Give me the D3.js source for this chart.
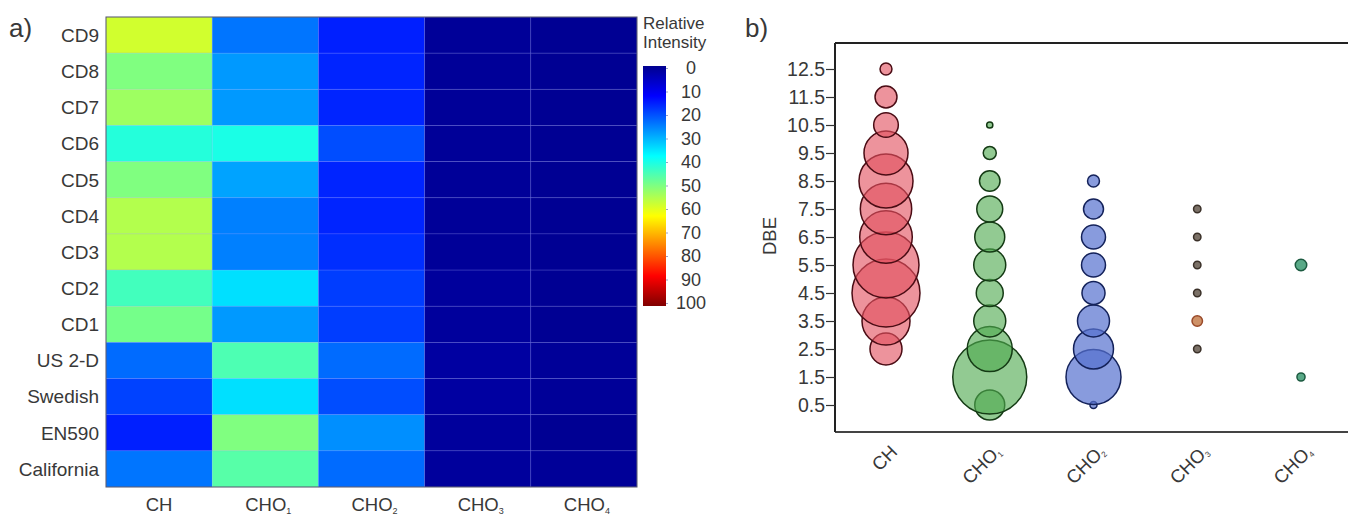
<!DOCTYPE html>
<html>
<head>
<meta charset="utf-8">
<script src="https://cdn.jsdelivr.net/npm/d3@7/dist/d3.min.js"></script>
<style>
  html, body { margin: 0; padding: 0; background: #fff; }
  svg { display: block; font-family: "Liberation Sans", Arial, sans-serif; }
</style>
</head>
<body>
<svg id="fig" width="1348" height="516"></svg>
<script>
// ---- panel a) heatmap data: relative intensity (%) per fuel and class ----
const fuels = ["CD9", "CD8", "CD7", "CD6", "CD5", "CD4", "CD3", "CD2", "CD1", "US 2-D", "Swedish", "EN590", "California"];
const classes = [
  { base: "CH", sub: "" },
  { base: "CHO", sub: "1" },
  { base: "CHO", sub: "2" },
  { base: "CHO", sub: "3" },
  { base: "CHO", sub: "4" }
];
const classKeys = ["CH", "CHO1", "CHO2", "CHO3", "CHO4"];
const intensityCH   = [58, 50, 53, 41, 50, 55, 55, 44, 49, 23, 19, 15.5, 24];
const intensityCHO1 = [24, 27.5, 27.5, 40, 28.5, 25, 25, 34.5, 27.5, 45, 34.5, 50, 46];
const intensityCHO2 = [15.5, 16, 16, 20, 16, 16, 17, 18.5, 18.5, 23, 20, 26.5, 23];
const intensityCHO3 = [1, 1, 1, 1, 1, 1, 1, 1.5, 1.5, 2, 2, 1.5, 1.5];
const intensityCHO4 = [0.5, 0.5, 0.5, 0.5, 0.5, 0.5, 0.5, 0.5, 0.5, 1, 1, 0.5, 1];
const colorbarTicks = [0, 10, 20, 30, 40, 50, 60, 70, 80, 90, 100];

// ---- panel b) bubble data: DBE levels and relative abundance per class ----
const dbeCH   = [2.5, 3.5, 4.5, 5.5, 6.5, 7.5, 8.5, 9.5, 10.5, 11.5, 12.5];
const sizeCH  = [18.7, 42.1, 84.4, 79.5, 50.5, 48.2, 53.3, 35.4, 11.1, 8.8, 2.6];
const dbeCHO1  = [0.5, 1.5, 2.5, 3.5, 4.5, 5.5, 6.5, 7.5, 8.5, 9.5, 10.5];
const sizeCHO1 = [16.4, 100, 37.0, 18.7, 13.3, 18.7, 16.4, 12.3, 7.7, 3.1, 0.7];
const dbeCHO2  = [0.5, 1.5, 2.5, 3.5, 4.5, 5.5, 6.5, 7.5, 8.5];
const sizeCHO2 = [0.9, 55.2, 29.2, 18.7, 9.7, 10.5, 10.5, 7.3, 2.6];
const dbeCHO3  = [2.5, 3.5, 4.5, 5.5, 6.5, 7.5];
const sizeCHO3 = [1.0, 2.0, 1.0, 1.0, 1.0, 1.0];
const dbeCHO4  = [1.5, 5.5];
const sizeCHO4 = [1.2, 2.4];
const dbeTicks = [0.5, 1.5, 2.5, 3.5, 4.5, 5.5, 6.5, 7.5, 8.5, 9.5, 10.5, 11.5, 12.5];

const svg = d3.select("#fig");
const textColor = "#383838";
const fontFamily = "'Liberation Sans', Arial, sans-serif";
const labelSize = 19;

// Jet colour map (0 = dark blue, 100 = dark red)
const jet = d3.scaleLinear()
  .domain([0, 12.5, 37.5, 62.5, 87.5, 100])
  .range(["#00008f", "#0000ff", "#00ffff", "#ffff00", "#ff0000", "#800000"])
  .clamp(true);

// helper: write a chemical class name with an optional subscript
function writeClass(sel, c, subSize) {
  sel.text(null);
  sel.append("tspan").text(c.base);
  if (c.sub) {
    sel.append("tspan").attr("font-size", subSize).attr("dy", "0.3em").text(c.sub);
  }
}

// ================= panel a) =================
const hx = d3.scaleBand().domain(classKeys).range([106, 637]);
const hy = d3.scaleBand().domain(fuels).range([17, 487]);
const columns = [intensityCH, intensityCHO1, intensityCHO2, intensityCHO3, intensityCHO4];

const cells = [];
fuels.forEach((f, i) => classKeys.forEach((k, j) => cells.push({ fuel: f, cls: k, v: columns[j][i] })));

const gA = svg.append("g");
gA.selectAll("rect.cell").data(cells).join("rect")
  .attr("class", "cell")
  .attr("x", d => hx(d.cls))
  .attr("y", d => hy(d.fuel))
  .attr("width", hx.bandwidth())
  .attr("height", hy.bandwidth())
  .attr("fill", d => jet(d.v))
  .attr("stroke", "rgba(140,150,255,0.22)")
  .attr("stroke-width", 0.8);

gA.append("rect")
  .attr("x", 106).attr("y", 17)
  .attr("width", 531).attr("height", 470)
  .attr("fill", "none").attr("stroke", "#5a5a6a").attr("stroke-width", 1);

// row labels
gA.selectAll("text.row").data(fuels).join("text")
  .attr("class", "row")
  .attr("x", 99)
  .attr("y", d => hy(d) + hy.bandwidth() / 2)
  .attr("dy", "0.36em")
  .attr("text-anchor", "end")
  .attr("font-size", labelSize)
  .attr("fill", textColor)
  .text(d => d);

// column labels
gA.selectAll("text.col").data(classes).join("text")
  .attr("class", "col")
  .attr("x", (d, i) => hx(classKeys[i]) + hx.bandwidth() / 2 + (d.sub ? 3 : 0))
  .attr("y", 511)
  .attr("text-anchor", "middle")
  .attr("font-size", 18.5)
  .attr("fill", textColor)
  .each(function (d) { writeClass(d3.select(this), d, 9); });

svg.append("text").attr("x", 9).attr("y", 37)
  .attr("font-size", 26).attr("fill", textColor).text("a)");

// colour bar
const cbY = d3.scaleLinear().domain([0, 100]).range([68, 303]);
const defs = svg.append("defs");
const grad = defs.append("linearGradient").attr("id", "jetGrad")
  .attr("x1", 0).attr("y1", 0).attr("x2", 0).attr("y2", 1);
d3.range(0, 101, 2.5).forEach(v => {
  grad.append("stop").attr("offset", (v / 100)).attr("stop-color", jet(v));
});
svg.append("rect")
  .attr("x", 643).attr("y", cbY(0) - 2)
  .attr("width", 23).attr("height", cbY(100) - cbY(0) + 5)
  .attr("fill", "url(#jetGrad)");

const cbAxis = svg.append("g").attr("transform", "translate(666,0)")
  .call(d3.axisRight(cbY).tickValues(colorbarTicks).tickSize(2).tickPadding(23));
cbAxis.select(".domain").remove();
cbAxis.selectAll(".tick line").attr("stroke", "#9aa0c8");
cbAxis.selectAll(".tick text")
  .attr("font-size", 18).attr("fill", textColor)
  .attr("text-anchor", "middle")
  .attr("font-family", fontFamily);

// colour bar title, two lines
svg.append("text").attr("x", 643).attr("y", 29)
  .attr("font-size", 17).attr("fill", textColor).text("Relative");
svg.append("text").attr("x", 643).attr("y", 48)
  .attr("font-size", 17).attr("fill", textColor).text("Intensity");

// ================= panel b) =================
const bx = d3.scalePoint().domain(classKeys).range([886, 1301]);
const by = d3.scaleLinear().domain([0.5, 12.5]).range([405, 69]);
const rScale = d3.scaleSqrt().domain([0, 100]).range([0, 37]);

const seriesB = [
  { key: "CH",   dbe: dbeCH,   size: sizeCH,   fill: "#e2505f", stroke: "#4a0c14", op: 0.62 },
  { key: "CHO1", dbe: dbeCHO1, size: sizeCHO1, fill: "#4faa4f", stroke: "#143a14", op: 0.62 },
  { key: "CHO2", dbe: dbeCHO2, size: sizeCHO2, fill: "#5570cf", stroke: "#14225a", op: 0.7 },
  { key: "CHO3", dbe: dbeCHO3, size: sizeCHO3, fill: "#6d6256", stroke: "#3a3028", op: 0.9 },
  { key: "CHO4", dbe: dbeCHO4, size: sizeCHO4, fill: "#3c9a72", stroke: "#1c5a40", op: 0.85 }
];

const gB = svg.append("g");
seriesB.forEach(s => {
  const pts = s.dbe.map((d, i) => ({ dbe: d, size: s.size[i] }));
  gB.append("g").selectAll("circle").data(pts).join("circle")
    .attr("cx", bx(s.key))
    .attr("cy", d => by(d.dbe))
    .attr("r", d => rScale(d.size))
    .attr("fill", d => (s.key === "CHO3" && d.dbe === 3.5) ? "#c98556" : s.fill)
    .attr("fill-opacity", s.op)
    .attr("stroke", d => (s.key === "CHO3" && d.dbe === 3.5) ? "#9a4a2a" : s.stroke)
    .attr("stroke-width", 1.5);
});

// frame
const frameLeft = 835, frameTop = 43, frameBottom = 432;
gB.append("line").attr("x1", frameLeft).attr("x2", 1348).attr("y1", frameTop).attr("y2", frameTop)
  .attr("stroke", "#222").attr("stroke-width", 2);
gB.append("line").attr("x1", frameLeft).attr("x2", 1348).attr("y1", frameBottom).attr("y2", frameBottom)
  .attr("stroke", "#444").attr("stroke-width", 2.2);

const yAxis = gB.append("g").attr("transform", `translate(${frameLeft},0)`)
  .call(d3.axisLeft(by).tickValues(dbeTicks).tickFormat(d3.format(".1f")).tickSize(9).tickPadding(1).tickSizeOuter(0));
yAxis.select(".domain").attr("d", `M0,${frameTop}V${frameBottom}`).attr("stroke", "#222").attr("stroke-width", 2);
yAxis.selectAll(".tick line").attr("stroke", "#333").attr("stroke-width", 1.2);
yAxis.selectAll(".tick text").attr("font-size", 19.5).attr("fill", textColor)
  .attr("font-family", fontFamily);

// rotated category labels
const xAxis = gB.append("g").attr("transform", `translate(0,${frameBottom})`)
  .call(d3.axisBottom(bx).tickSize(0).tickPadding(0));
xAxis.select(".domain").remove();
xAxis.selectAll(".tick text")
  .attr("font-size", 18.5).attr("fill", textColor)
  .attr("font-family", fontFamily)
  .attr("text-anchor", "end")
  .attr("dy", 0)
  .attr("y", 0)
  .attr("transform", "translate(12,21) rotate(-45)")
  .each(function (k) { writeClass(d3.select(this), classes[classKeys.indexOf(k)], 8); });

svg.append("text")
  .attr("transform", "translate(776,236) rotate(-90)")
  .attr("text-anchor", "middle")
  .attr("font-size", 18.5).attr("fill", textColor).text("DBE");

svg.append("text").attr("x", 745).attr("y", 37)
  .attr("font-size", 26).attr("fill", textColor).text("b)");
</script>
</body>
</html>
